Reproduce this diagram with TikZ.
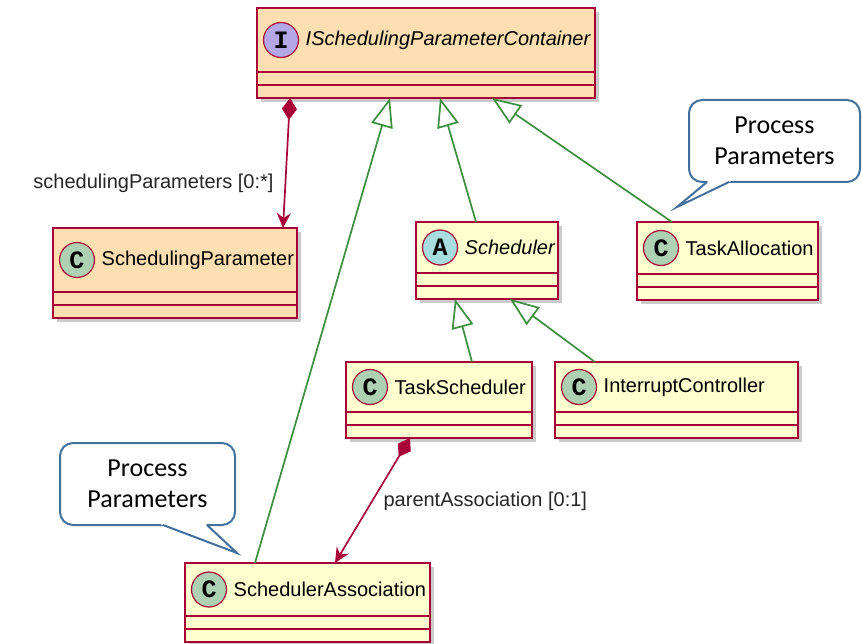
\documentclass[tikz,border=0pt]{standalone}
\usepackage{fontspec}
\setmainfont{Liberation Sans}
\setmonofont{Liberation Mono}
\newfontfamily\notefont{Carlito}
\usetikzlibrary{arrows.meta,shadows,calc,positioning}
\definecolor{umlred}{HTML}{A80036}
\definecolor{umlorange}{HTML}{FEDFB1}
\definecolor{umlyellow}{HTML}{FEFECE}
\definecolor{umlgreen}{HTML}{3C8F3C}
\definecolor{ifacecircle}{HTML}{B4A7E5}
\definecolor{abstcircle}{HTML}{A9DCDF}
\definecolor{classcircle}{HTML}{ADD1B2}
\definecolor{noteblue}{HTML}{41719C}
\tikzset{
    class-box/.style = {draw=umlred, line width=2pt, rectangle, anchor=north west, inner sep=0pt, outer sep=0pt, drop shadow={shadow xshift=4pt, shadow yshift=-4pt, fill=black!45, opacity=0.45}},
    class-line/.style = {draw=umlred, line width=2pt},
    kind-mark/.style = {circle, draw=umlred, line width=1.2pt, minimum size=35pt, inner sep=0pt, outer sep=0pt, font=\fontsize{25}{25}\selectfont\ttfamily\bfseries},
    class-title/.style = {inner sep=0pt, font=\fontsize{20}{24}\selectfont},
    realizes/.style = {draw=umlgreen, line width=1.7pt, -{Triangle[open, length=29pt, width=22pt, fill=white]}},
    owns/.style = {draw=umlred, line width=1.7pt, {Diamond[length=22pt, width=15pt]}-{Stealth[length=15pt, width=14pt, inset=5pt]}},
    assoc-label/.style = {inner sep=0pt, font=\fontsize{20}{24}\selectfont, text=black!85},
    note-box/.style = {draw=noteblue, line width=2pt, fill=white, rounded corners=13pt, outer sep=0pt, align=center, font=\notefont\fontsize{26}{31}\selectfont},
    note-line/.style = {draw=noteblue, line width=2pt, line join=miter},
}
% name, top left, width, height, fill, letter, circle fill, title
\newcommand{\umlclass}[8]{%
    \node[class-box, fill=#5, minimum width=#3pt, minimum height=#4pt] (#1) at (#2) {};
    \draw[class-line] ([yshift=13pt]#1.south west) -- ([yshift=13pt]#1.south east);
    \draw[class-line] ([yshift=26pt]#1.south west) -- ([yshift=26pt]#1.south east);
    \node[kind-mark, fill=#7] (#1-mark) at ($(#1.north west)!.5!([yshift=26pt]#1.south west)+(24,0)$) {#6};
    \node[class-title, right=7pt] at (#1-mark.east) {#8};
}

\begin{document}
\begin{tikzpicture}[x=1pt, y=-1pt]
\useasboundingbox (0,0) rectangle (862,644);

\umlclass{ipc}{257,8}{338}{90}{umlorange}{I}{ifacecircle}{\textit{ISchedulingParameterContainer}}
\umlclass{sp}{53,228}{244}{90}{umlorange}{C}{classcircle}{SchedulingParameter}
\umlclass{sch}{416,222}{142}{77}{umlyellow}{A}{abstcircle}{\textit{Scheduler}}
\umlclass{ta}{637,222}{181}{78}{umlyellow}{C}{classcircle}{TaskAllocation}
\umlclass{ts}{346,362}{186}{76}{umlyellow}{C}{classcircle}{TaskScheduler}
\umlclass{ic}{555,362}{243}{76}{umlyellow}{C}{classcircle}{InterruptController}
\umlclass{sa}{185,563}{245}{79}{umlyellow}{C}{classcircle}{SchedulerAssociation}

% realizations
\draw[realizes] ([xshift=70pt]sa.north west) -- ([xshift=133pt]ipc.south west);
\draw[realizes] ([xshift=60pt]sch.north west) -- ([xshift=183pt]ipc.south west);
\draw[realizes] ([xshift=35pt]ta.north west) -- ([xshift=235pt]ipc.south west);
\draw[realizes] ([xshift=126pt]ts.north west) -- ([xshift=39pt]sch.south west);
\draw[realizes] ([xshift=40pt]ic.north west) -- ([xshift=94pt]sch.south west);

% compositions
\draw[owns] ([xshift=33pt]ipc.south west) -- node[assoc-label, pos=0.66, left=11pt] {schedulingParameters [0:*]} ([xshift=230pt]sp.north west);
\draw[owns] ([xshift=64pt]ts.south west) -- node[assoc-label, pos=0.51, right=11pt] {parentAssociation [0:1]} ([xshift=150pt]sa.north west);

% notes
\node[note-box, minimum width=171pt, minimum height=82pt] (note-ta) at (774.5,141) {Process\\Parameters};
\coordinate (note-ta-tip) at (677,207);
\fill[white] ($(note-ta.south)+(-63.9,-3)$) -- (note-ta-tip) -- ($(note-ta.south)+(-39.3,-3)$) -- cycle;
\draw[note-line] ($(note-ta.south)+(-67.5,0)$) -- (note-ta-tip) -- ($(note-ta.south)+(-45.5,0)$);

\node[note-box, minimum width=175pt, minimum height=82pt] (note-sa) at (147.5,484) {Process\\Parameters};
\coordinate (note-sa-tip) at (237,553);
\fill[white] ($(note-sa.south)+(7.6,-3)$) -- (note-sa-tip) -- ($(note-sa.south)+(56.3,-3)$) -- cycle;
\draw[note-line] ($(note-sa.south)+(15.5,0)$) -- (note-sa-tip) -- ($(note-sa.south)+(59.5,0)$);
\end{tikzpicture}
\end{document}
